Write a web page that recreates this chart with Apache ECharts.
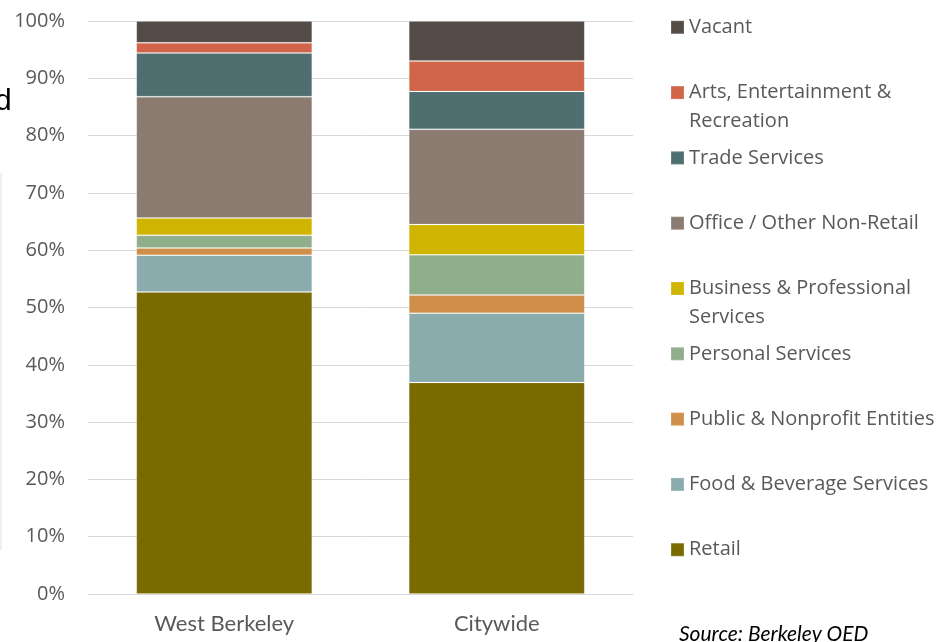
<!DOCTYPE html>
<html>
<head>
<meta charset="utf-8">
<script src="https://cdn.jsdelivr.net/npm/echarts@6/dist/echarts.min.js"></script>
<style>
html,body{margin:0;padding:0;background:#fff;}
#chart{width:952px;height:642px;}
</style>
</head>
<body>
<div id="chart"></div>
<script>
var categories = ['West Berkeley', 'Citywide'];
var seriesNames = ['Retail', 'Food & Beverage Services', 'Public & Nonprofit Entities', 'Personal Services',
  'Business & Professional Services', 'Office / Other Non-Retail', 'Trade Services',
  'Arts, Entertainment & Recreation', 'Vacant'];
var retail = [52.7, 36.9];
var food = [6.4, 12.1];
var publicNp = [1.3, 3.2];
var personal = [2.2, 7.0];
var business = [3.0, 5.3];
var office = [21.2, 16.6];
var trade = [7.6, 6.6];
var arts = [1.8, 5.3];
var vacant = [3.8, 7.0];
var yTicks = [0, 10, 20, 30, 40, 50, 60, 70, 80, 90, 100];
var legendOrder = ['Vacant', 'Arts, Entertainment & Recreation', 'Trade Services', 'Office / Other Non-Retail',
  'Business & Professional Services', 'Personal Services', 'Public & Nonprofit Entities',
  'Food & Beverage Services', 'Retail'];
var legendLabels = {
  'Arts, Entertainment & Recreation': 'Arts, Entertainment &\nRecreation',
  'Business & Professional Services': 'Business & Professional\nServices'
};
var colors = ['#796b00', '#8aacad', '#cf8e4a', '#8faf8b', '#cfb500', '#8b7b71', '#4e6e6f', '#d16549', '#544b46'];
var values = [retail, food, publicNp, personal, business, office, trade, arts, vacant];

var chart = echarts.init(document.getElementById('chart'), null, {renderer: 'canvas'});

var series = seriesNames.map(function (n, i) {
  return {
    name: n,
    type: 'bar',
    stack: 'total',
    barWidth: 176,
    data: values[i],
    itemStyle: {color: colors[i], borderColor: 'rgba(255,255,255,0.12)', borderWidth: 1},
    emphasis: {disabled: true}
  };
});

var legends = legendOrder.map(function (n, i) {
  var center = 27.3 + 65.3 * i;
  var two = !!legendLabels[n];
  return {
    data: [n],
    orient: 'vertical',
    left: 670,
    top: center - (two ? 43.5 : 14.5),
    padding: 0,
    itemWidth: 13,
    itemHeight: 13,
    icon: 'rect',
    selectedMode: false,
    formatter: function (name) { return legendLabels[name] ? '\n' + legendLabels[name] : name; },
    textStyle: {fontFamily: 'Open Sans', fontSize: 20, color: '#595959', lineHeight: 29}
  };
});

chart.setOption({
  animation: false,
  color: colors,
  grid: {left: 88, right: 319, top: 21, bottom: 48, containLabel: false},
  xAxis: {
    type: 'category',
    data: categories,
    axisLine: {lineStyle: {color: '#d9d9d9', width: 1}},
    axisTick: {show: false},
    axisLabel: {fontFamily: 'Lato', fontSize: 22, color: '#595959', margin: 19}
  },
  yAxis: {
    type: 'value',
    min: yTicks[0],
    max: yTicks[yTicks.length - 1],
    interval: 10,
    axisLine: {show: false},
    axisTick: {show: false},
    splitLine: {lineStyle: {color: '#d9d9d9', width: 1}},
    axisLabel: {formatter: '{value}%', fontFamily: 'Open Sans', fontSize: 20, color: '#595959', margin: 23}
  },
  legend: legends,
  series: series,
  graphic: [
    {type: 'text', x: -5, y: 87, style: {text: 'd', font: '30px "Liberation Sans"', fill: '#000', verticalAlign: 'top'}},
    {type: 'line', shape: {x1: 1, y1: 173, x2: 1, y2: 550}, style: {stroke: '#e0e0e0', lineWidth: 1}},
    {type: 'text', x: 679, y: 624, style: {text: 'Source: Berkeley OED', font: 'italic 21px Lato', fill: '#000', verticalAlign: 'top'}}
  ]
});
</script>
</body>
</html>
